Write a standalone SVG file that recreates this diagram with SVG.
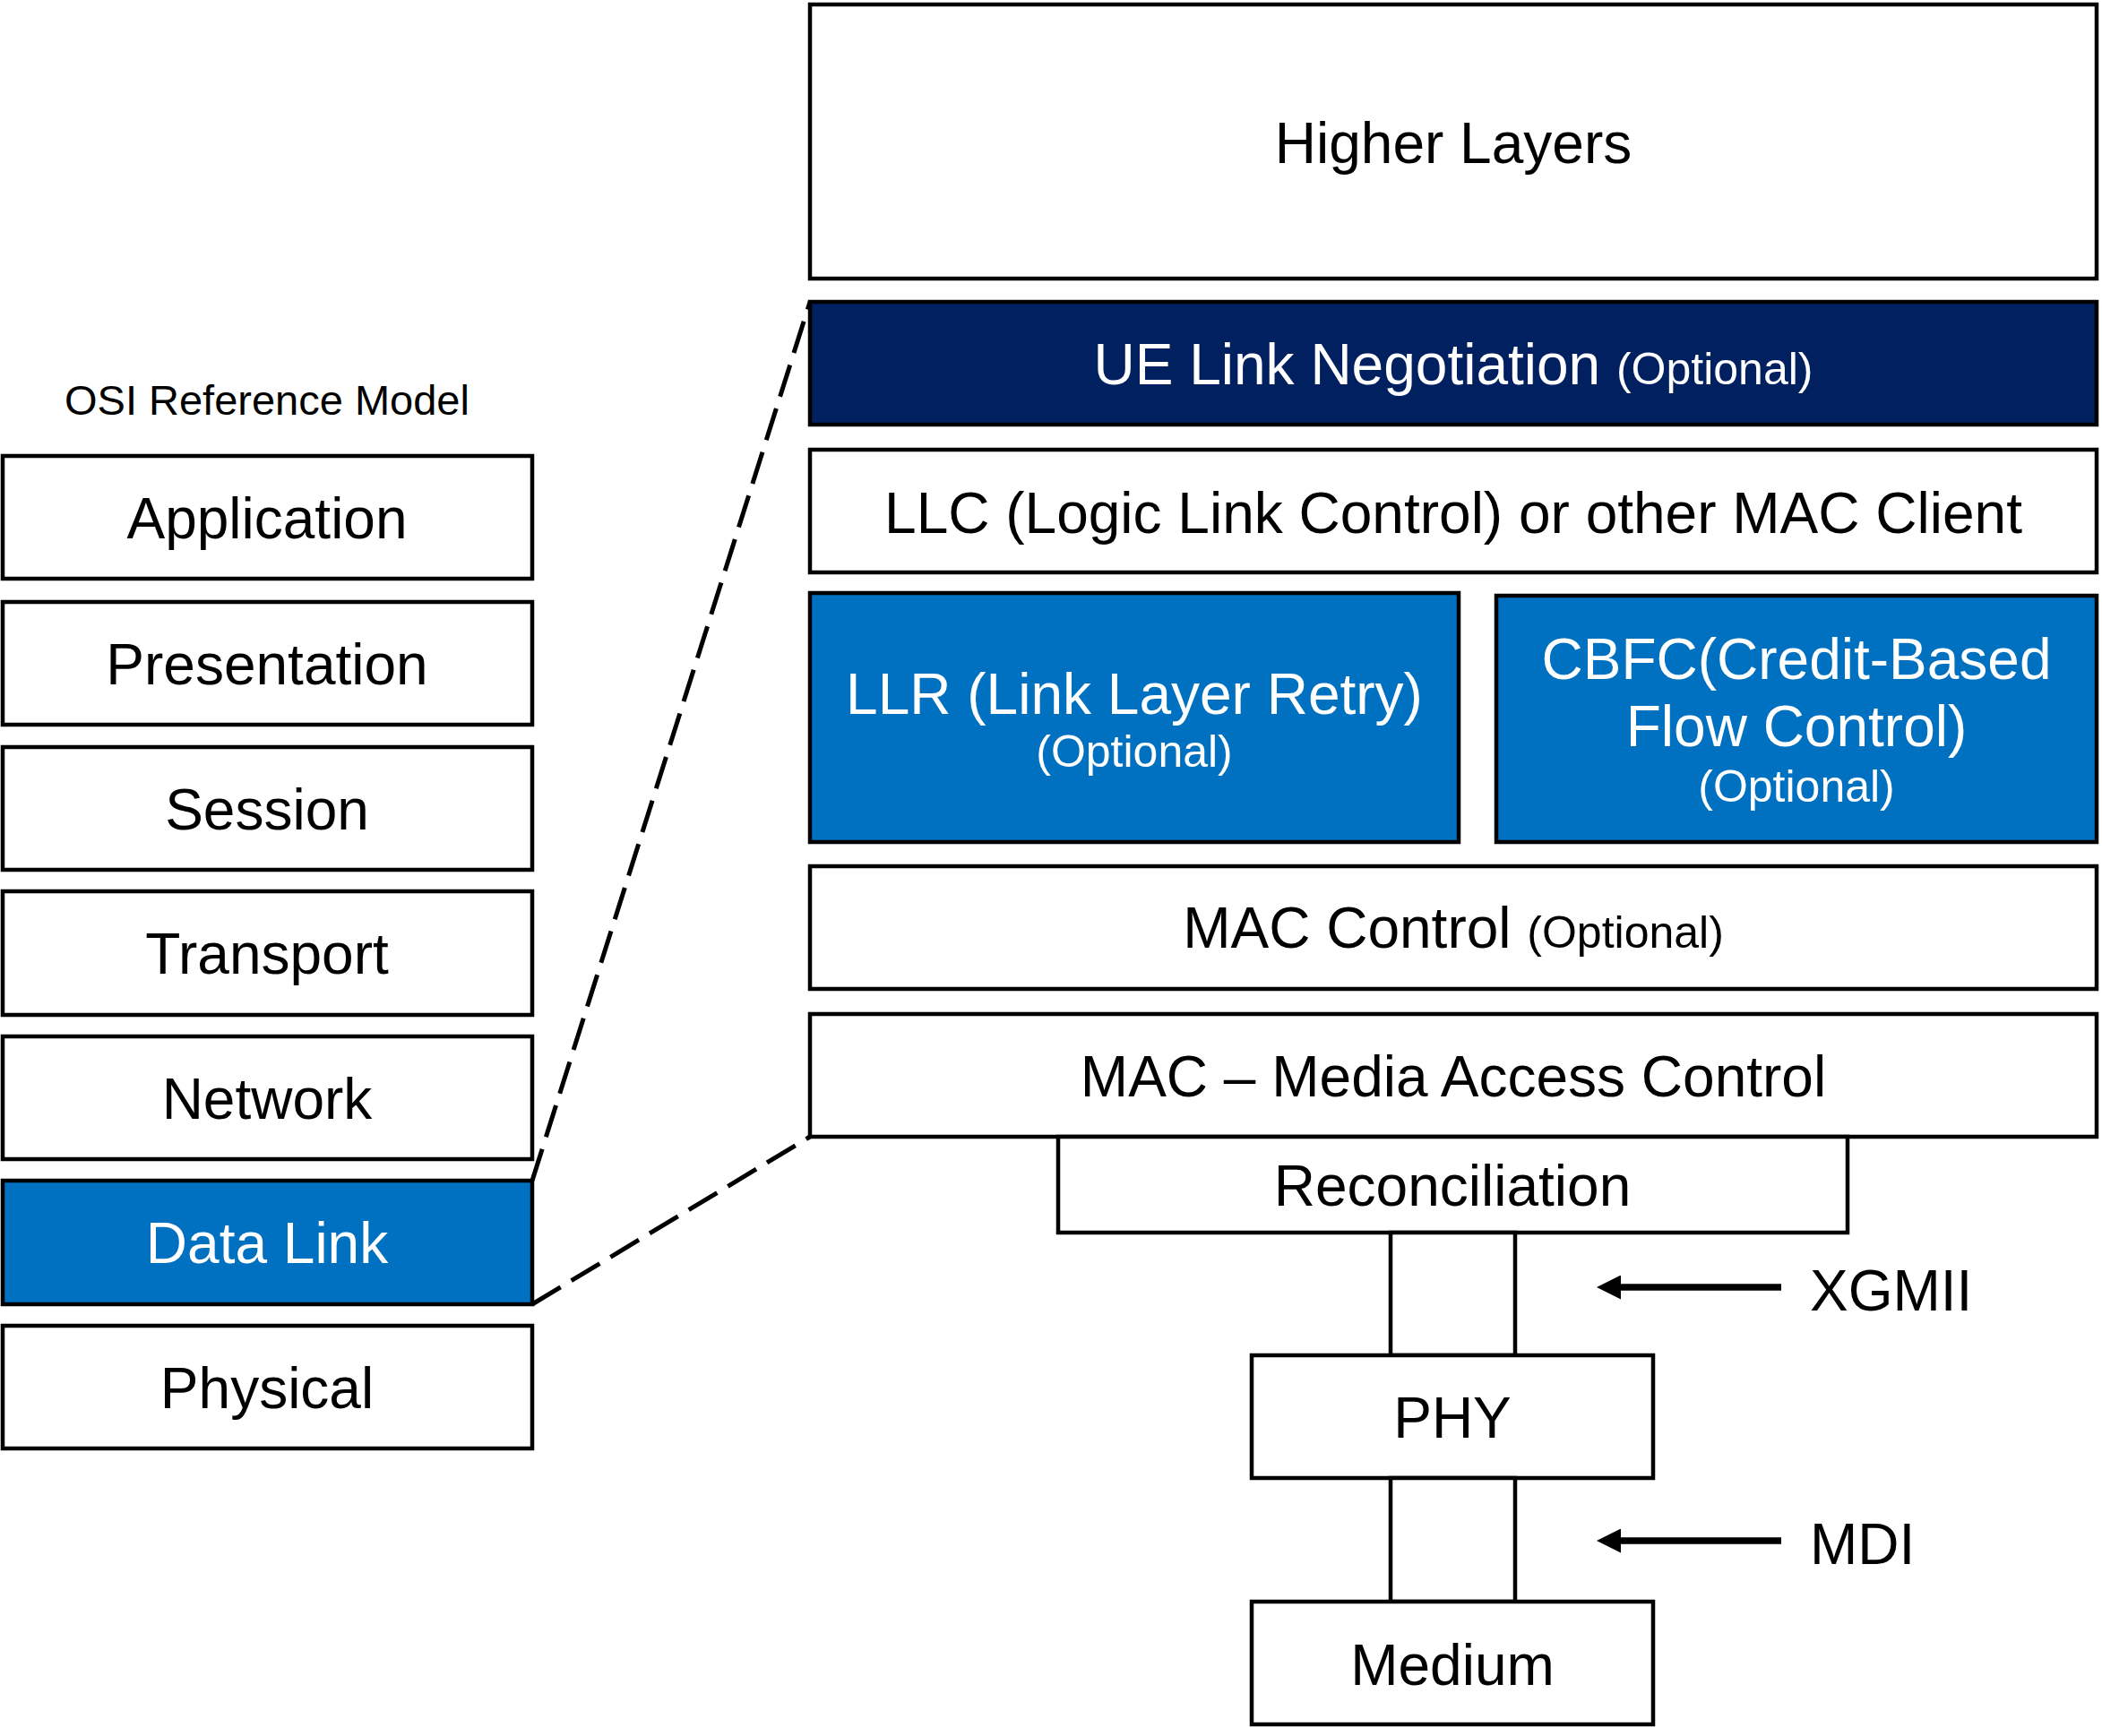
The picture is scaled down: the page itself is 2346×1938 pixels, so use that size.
<svg xmlns="http://www.w3.org/2000/svg" width="2346" height="1938" viewBox="0 0 2346 1938">
<defs>
<style>
.box{fill:#ffffff;stroke:#000000;stroke-width:4.5}
.blue{fill:#0070C0;stroke:#000000;stroke-width:4.5}
.navy{fill:#002060;stroke:#000000;stroke-width:4.5}
.t{font-family:"Liberation Sans",Arial,sans-serif;font-size:64px;fill:#000000;text-anchor:middle}
.w{fill:#ffffff}
.s{font-size:50px}
.lbl{font-family:"Liberation Sans",Arial,sans-serif;font-size:64px;fill:#000000}
.dash{fill:none;stroke:#000000;stroke-width:5;stroke-dasharray:37 14}
.arr{fill:none;stroke:#000000;stroke-width:7.5}
</style>
<marker id="ah" viewBox="0 0 27 27" refX="4" refY="13.5" markerWidth="27" markerHeight="27" markerUnits="userSpaceOnUse" orient="auto-start-reverse">
<path d="M0,0 L27,13.5 L0,27 z" fill="#000000"/>
</marker>
</defs>
<rect width="2346" height="1938" fill="#ffffff"/>

<text class="t" x="298" y="463" style="font-size:47px">OSI Reference Model</text>

<g id="osi-application"><rect class="box" x="3" y="509" width="591" height="137"/><text class="t" x="298" y="601">Application</text></g>
<g id="osi-presentation"><rect class="box" x="3" y="672" width="591" height="137"/><text class="t" x="298" y="764">Presentation</text></g>
<g id="osi-session"><rect class="box" x="3" y="834" width="591" height="137"/><text class="t" x="298" y="926">Session</text></g>
<g id="osi-transport"><rect class="box" x="3" y="995" width="591" height="138"/><text class="t" x="298" y="1087">Transport</text></g>
<g id="osi-network"><rect class="box" x="3" y="1157" width="591" height="137"/><text class="t" x="298" y="1249">Network</text></g>
<g id="osi-datalink"><rect class="blue" x="3" y="1318" width="591" height="138"/><text class="t w" x="298" y="1410">Data Link</text></g>
<g id="osi-physical"><rect class="box" x="3" y="1480" width="591" height="137"/><text class="t" x="298" y="1572">Physical</text></g>

<g id="higher-layers"><rect class="box" x="904" y="5" width="1436" height="306"/><text class="t" x="1622" y="182">Higher Layers</text></g>
<g id="ue-link"><rect class="navy" x="904" y="337" width="1436" height="137"/><text class="t w" x="1622" y="429">UE Link Negotiation <tspan class="s">(Optional)</tspan></text></g>
<g id="llc"><rect class="box" x="904" y="502" width="1436" height="137"/><text class="t" x="1622" y="595">LLC (Logic Link Control) or other MAC Client</text></g>
<g id="llr"><rect class="blue" x="904" y="662" width="724" height="278"/><text class="t w" x="1266" y="797">LLR (Link Layer Retry)</text><text class="t w s" x="1266" y="856">(Optional)</text></g>
<g id="cbfc"><rect class="blue" x="1670" y="665" width="670" height="275"/><text class="t w" x="2005" y="758">CBFC(Credit-Based</text><text class="t w" x="2005" y="833">Flow Control)</text><text class="t w s" x="2005" y="895">(Optional)</text></g>
<g id="mac-control"><rect class="box" x="904" y="967" width="1436" height="137"/><text class="t" x="1622" y="1058">MAC Control <tspan class="s">(Optional)</tspan></text></g>
<g id="mac"><rect class="box" x="904" y="1132" width="1436" height="137"/><text class="t" x="1622" y="1224">MAC – Media Access Control</text></g>
<g id="reconciliation"><rect class="box" x="1181" y="1269" width="881" height="107"/><text class="t" x="1621" y="1346">Reconciliation</text></g>
<g id="xgmii-link"><rect class="box" x="1552" y="1376" width="139" height="137"/></g>
<g id="phy"><rect class="box" x="1397" y="1513" width="448" height="137"/><text class="t" x="1621" y="1605">PHY</text></g>
<g id="mdi-link"><rect class="box" x="1552" y="1650" width="139" height="138"/></g>
<g id="medium"><rect class="box" x="1397" y="1788" width="448" height="137"/><text class="t" x="1621" y="1881">Medium</text></g>

<g id="labels">
<text class="lbl" x="2020" y="1463">XGMII</text>
<text class="lbl" x="2020" y="1746">MDI</text>
</g>

<g id="connectors">
<line class="dash" x1="594" y1="1318" x2="904" y2="337"/>
<line class="dash" x1="594" y1="1456" x2="904" y2="1269"/>
<line class="arr" x1="1988" y1="1437" x2="1805" y2="1437" marker-end="url(#ah)"/>
<line class="arr" x1="1988" y1="1720" x2="1805" y2="1720" marker-end="url(#ah)"/>
</g>
</svg>
